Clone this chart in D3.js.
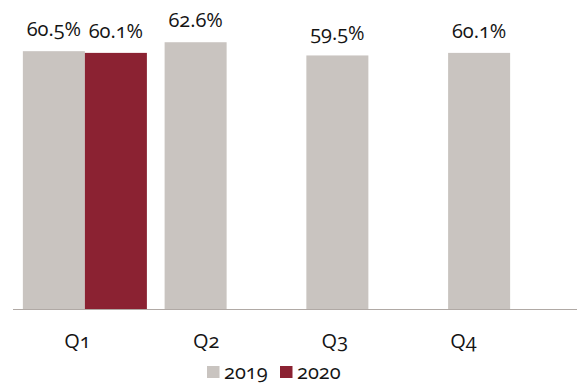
<!DOCTYPE html>
<html>
<head>
<meta charset="utf-8">
<script src="https://cdn.jsdelivr.net/npm/d3@7"></script>
<style>
  html, body { margin: 0; padding: 0; background: #fff; }
  svg text { font-family: "Open Sans", "Noto Sans", sans-serif; font-variant-numeric: oldstyle-nums; fill: #141414; }
</style>
</head>
<body>
<svg id="chart" width="577" height="385"></svg>
<script>
// Quarterly share, 2019 vs 2020
const quarters = ["Q1", "Q2", "Q3", "Q4"];
const years = ["2019", "2020"];
const values2019 = [60.5, 62.6, 59.5, 60.1];
const values2020 = [60.1, null, null, null];
const colors = ["#c9c4c0", "#8b2232"];

const W = 577, H = 385;
const baseY = 309;
const fontSize = 20;

const svg = d3.select("#chart");

const x = d3.scaleBand().domain(quarters).range([14, 581]).paddingInner(0.125).paddingOuter(0.0625);
const xSub = d3.scaleBand().domain(years).range([0, x.bandwidth()]);
const y = d3.scaleLinear().domain([0, 70]).range([baseY, 10.7]);
// category labels sit on their own evenly spaced positions
const xLabel = d3.scalePoint().domain(quarters).range([77, 463]);

const rows = [];
quarters.forEach((q, i) => {
  [values2019[i], values2020[i]].forEach((v, k) => {
    if (v != null) rows.push({ q, year: years[k], v, k });
  });
});

svg.append("g").selectAll("rect").data(rows).join("rect")
  .attr("x", d => x(d.q) + xSub(d.year))
  .attr("y", d => y(d.v))
  .attr("width", xSub.bandwidth())
  .attr("height", d => y(0) - y(d.v))
  .attr("fill", d => colors[d.k]);

svg.append("g").selectAll("text").data(rows).join("text")
  .attr("x", d => x(d.q) + xSub(d.year) + xSub.bandwidth() / 2)
  .attr("y", d => y(d.v) - 15)
  .attr("text-anchor", "middle")
  .attr("font-size", fontSize)
  .text(d => d.v.toFixed(1) + "%");

// baseline
svg.append("line")
  .attr("x1", 13).attr("x2", W)
  .attr("y1", baseY + 0.5).attr("y2", baseY + 0.5)
  .attr("stroke", "#b0a9a5").attr("stroke-width", 1.2);

// category axis labels
const xAxis = d3.axisBottom(xLabel).tickSize(0).tickPadding(0);
const gx = svg.append("g").attr("transform", `translate(0,${baseY})`).call(xAxis);
gx.select(".domain").remove();
gx.selectAll("text")
  .attr("dy", null)
  .attr("y", 39)
  .attr("font-size", fontSize)
  .attr("fill", "#141414")
  .style("font-family", "\"Open Sans\", sans-serif");

// legend
const legend = svg.append("g");
const legendX = [207, 280];
years.forEach((yr, k) => {
  const g = legend.append("g").attr("transform", `translate(${legendX[k]},366)`);
  g.append("rect").attr("width", 12.5).attr("height", 12).attr("fill", colors[k]);
  g.append("text").attr("x", 17).attr("y", 13).attr("font-size", fontSize).text(yr);
});
</script>
</body>
</html>
